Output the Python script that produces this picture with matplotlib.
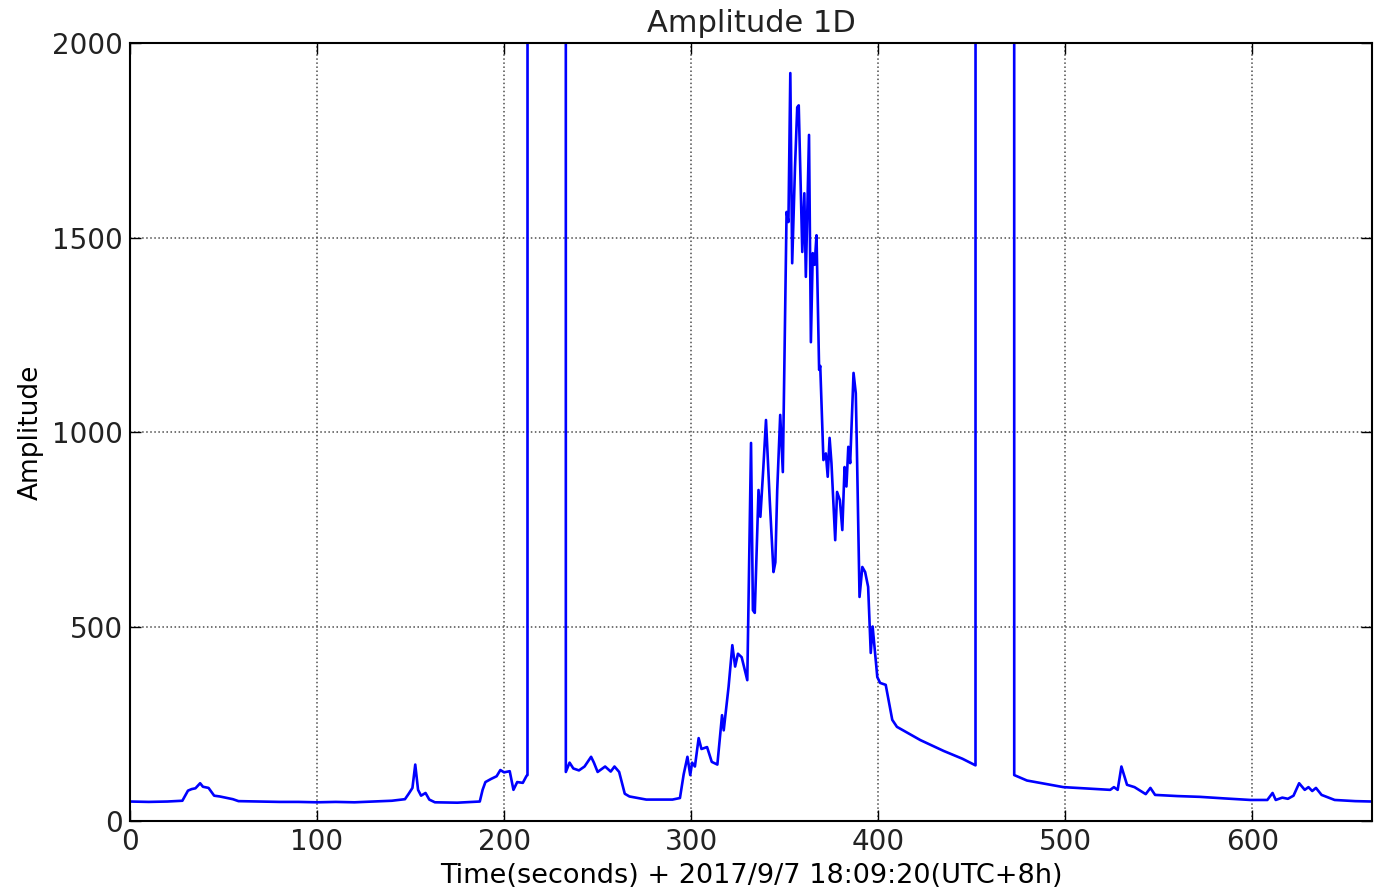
import matplotlib
matplotlib.use("Agg")
import matplotlib.pyplot as plt

# time (s) and amplitude
t = [0, 10, 20, 28, 31, 33, 35, 37.5, 39, 42, 45, 48, 51, 55, 58,
     70, 80, 90, 100, 110, 120, 130, 140, 147, 149, 151, 152.5, 154, 155.6, 158, 160, 163,
     175, 187, 188.5, 190, 193, 196, 198, 200, 203, 205, 207, 210, 212, 212.5,
     212.8, 232.8,
     233, 235, 237, 240, 243, 246.5, 248, 250, 254, 257, 259, 261.5, 264.5, 267, 276, 285, 290, 294,
     296, 298, 299.5, 300.5, 302, 304, 305.5, 308.5, 311, 314, 316.5, 317.4, 320, 322, 323.5, 325,
     327, 330, 332, 333, 334, 336, 337, 338.5, 340, 342, 344, 345, 346, 347.6, 349,
     351, 352, 353, 354, 355.5, 356.7, 357.5, 359.4, 360.5, 361.3, 363, 364, 365, 366, 367,
     368.4, 369, 370.7, 372, 373, 374, 375, 377, 378, 379.5, 380.8, 382, 383, 384, 385,
     386.8, 388, 388.6, 390, 391.5, 393, 394.6, 396, 397, 399.5, 401, 404, 407.5, 410,
     422.5, 435, 445, 452,
     452.3, 472.5,
     472.7, 479.5, 490, 499, 510, 524, 526, 528, 530, 533, 537, 543, 545.5, 548,
     560, 572, 585, 599, 608, 610.8, 612.5, 616, 619, 622, 625, 628, 630, 632, 634, 637,
     644, 655, 664]
amp = [50, 49, 50, 52, 78, 82, 84, 97, 88, 85, 65, 63, 60, 56, 51,
       50, 49, 49, 48, 49, 48, 50, 52, 56, 70, 85, 145, 80, 65, 72, 55, 48,
       47, 50, 80, 100, 108, 115, 131, 125, 128, 80, 100, 98, 116, 118,
       30000, 30000,
       126, 150, 135, 130, 140, 165, 150, 126, 140, 127, 140, 126, 70, 63, 55, 55, 55, 59,
       120, 165, 118, 150, 140, 213, 185, 190, 152, 145, 272, 233, 345, 452, 397, 430,
       421, 362, 972, 542, 535, 851, 782, 902, 1031, 825, 640, 665, 851, 1044, 897,
       1566, 1540, 1923, 1434, 1680, 1835, 1840, 1463, 1614, 1399, 1764, 1231, 1460, 1430, 1506,
       1160, 1170, 928, 945, 885, 985, 920, 722, 846, 825, 748, 910, 860, 962, 920,
       1152, 1100, 954, 576, 653, 640, 602, 432, 500, 370, 355, 350, 260, 242,
       208, 180, 160, 143,
       30000, 30000,
       118, 104, 95, 87, 84, 80, 87, 80, 140, 93, 87, 69, 85, 67,
       64, 62, 58, 54, 54, 72, 54, 60, 57, 65, 97, 80, 87, 77, 85, 67,
       54, 51, 50]

plt.rcParams["xtick.direction"] = "in"
plt.rcParams["ytick.direction"] = "in"
plt.rcParams["text.color"] = "#222222"
plt.rcParams["xtick.labelcolor"] = "#222222"
plt.rcParams["ytick.labelcolor"] = "#222222"

fig = plt.figure(figsize=(13.74, 8.91), dpi=100)
ax = fig.add_axes([0.0946, 0.0786, 0.904, 0.873])

ax.plot(t, amp, "b-", linewidth=1.9)

ax.set_xlim(0, 664)
ax.set_ylim(0, 2000)
ax.set_xticks([0, 100, 200, 300, 400, 500, 600])
ax.set_yticks([0, 500, 1000, 1500, 2000])
ax.tick_params(top=True, right=True, length=8, width=1, labelsize=20, pad=5)

ax.grid(True, linestyle=":", color="0.3", linewidth=1.1)
for s in ax.spines.values():
    s.set_linewidth(1.5)

ax.set_title("Amplitude 1D", fontsize=22, pad=8)
ax.set_xlabel("Time(seconds) + 2017/9/7 18:09:20(UTC+8h)", fontsize=19.5, labelpad=5)
ax.set_ylabel("Amplitude", fontsize=19, labelpad=6)

fig.savefig("out.png", dpi=100)
